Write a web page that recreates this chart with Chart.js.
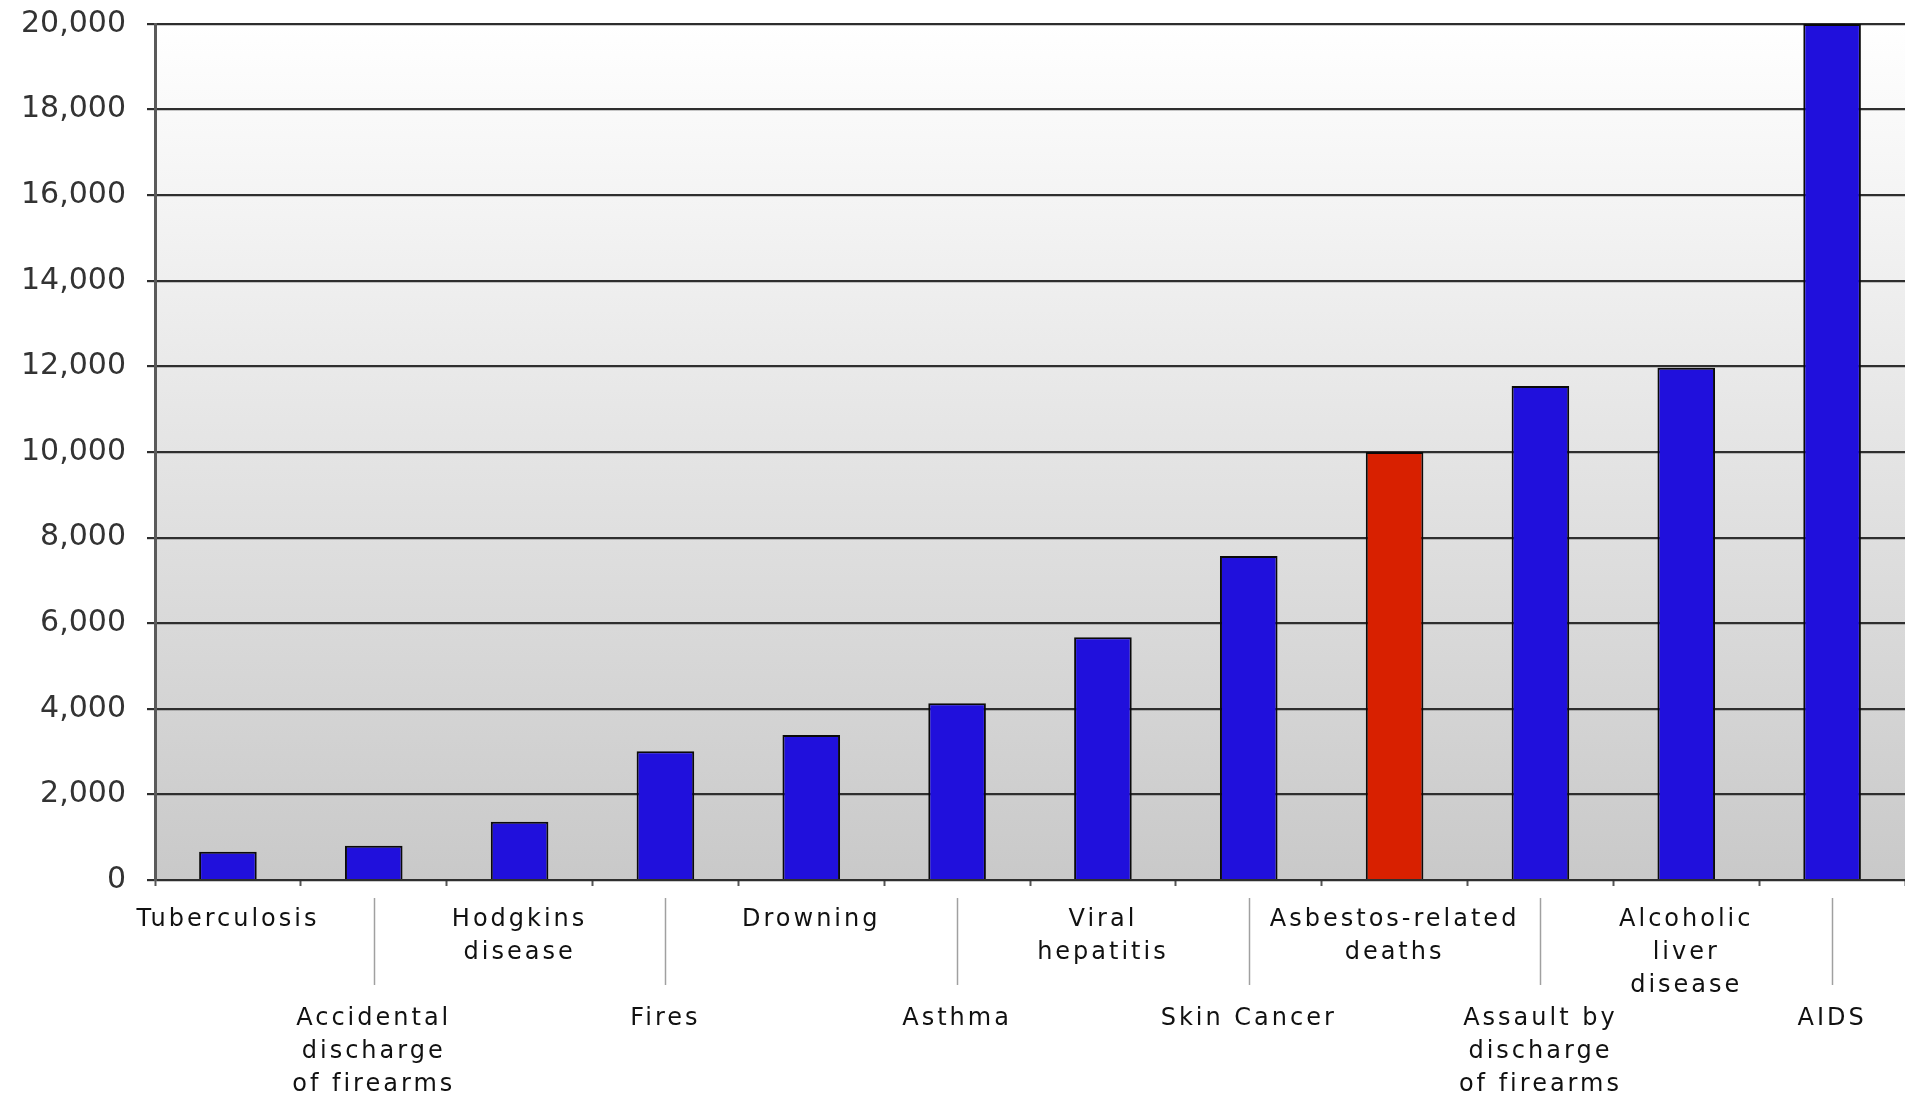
<!DOCTYPE html>
<html>
<head>
<meta charset="utf-8">
<title>Annual deaths by cause</title>
<script src="https://cdn.jsdelivr.net/npm/chart.js@4/dist/chart.umd.min.js"></script>
<style>
  html, body { margin: 0; padding: 0; background: #ffffff; }
  #wrap { width: 1905px; height: 1097px; }
</style>
</head>
<body>
<div id="wrap"><canvas id="chart" width="1905" height="1097"></canvas></div>
<script>
// Causes of death, each label split into its display lines
const causes = [
  ["Tuberculosis"],
  ["Accidental", "discharge", "of firearms"],
  ["Hodgkins", "disease"],
  ["Fires"],
  ["Drowning"],
  ["Asthma"],
  ["Viral", "hepatitis"],
  ["Skin Cancer"],
  ["Asbestos-related", "deaths"],
  ["Assault by", "discharge", "of firearms"],
  ["Alcoholic", "liver", "disease"],
  ["AIDS"]
];

// Deaths per year for each cause
const deaths = [660, 800, 1360, 3010, 3390, 4130, 5670, 7570, 10000, 11540, 11970, 20000];

// Value axis ticks
const yTicks = [0, 2000, 4000, 6000, 8000, 10000, 12000, 14000, 16000, 18000, 20000];

// The cause drawn in a contrasting colour
const highlighted = "Asbestos-related";

const BLUE = "#2010dc";
const RED = "#d82000";
const barColors = causes.map(c => c[0] === highlighted ? RED : BLUE);

// Every second label sits on a lower row, joined to its tick by a thin line
const LOWER_ROW_OFFSET = 3;
const tickLines = causes.map((lines, i) =>
  i % 2 === 1 ? Array(LOWER_ROW_OFFSET).fill("").concat(lines) : lines.slice()
);

const plotBackground = {
  id: "plotBackground",
  beforeDraw(chart) {
    const { ctx, chartArea: a } = chart;
    ctx.letterSpacing = "0px";
    const g = ctx.createLinearGradient(0, a.top, 0, a.bottom);
    g.addColorStop(0, "#ffffff");
    g.addColorStop(1, "#c9c9c9");
    ctx.save();
    ctx.fillStyle = g;
    ctx.fillRect(a.left, a.top, a.right - a.left, a.bottom - a.top);
    ctx.restore();
  },
  afterDatasetsDraw(chart) {
    // category labels are drawn after this with wider tracking
    chart.ctx.letterSpacing = "3px";
  },
  afterDraw(chart) {
    const { ctx } = chart;
    const x = chart.scales.x;
    ctx.save();
    ctx.letterSpacing = "0px";
    ctx.strokeStyle = "#a0a0a0";
    ctx.lineWidth = 1.5;
    causes.forEach((_, i) => {
      if (i % 2 !== 1) return;
      const px = Math.round(x.getPixelForTick(i)) + 0.5;
      ctx.beginPath();
      ctx.moveTo(px, x.top + 18);
      ctx.lineTo(px, x.top + 105);
      ctx.stroke();
    });
    ctx.restore();
    ctx.letterSpacing = "0px";
  }
};

new Chart(document.getElementById("chart"), {
  type: "bar",
  data: {
    labels: causes.map(c => c.join(" ")),
    datasets: [{
      data: deaths,
      backgroundColor: barColors,
      borderColor: "#0a0a0a",
      borderWidth: 2,
      borderSkipped: "bottom",
      categoryPercentage: 1.0,
      barPercentage: 0.395
    }]
  },
  options: {
    responsive: false,
    animation: false,
    devicePixelRatio: 1,
    layout: { padding: { top: 24, right: 0, bottom: 0, left: 0 } },
    plugins: {
      legend: { display: false },
      tooltip: { enabled: false },
      title: { display: false }
    },
    scales: {
      x: {
        type: "category",
        offset: true,
        grid: {
          display: true,
          drawOnChartArea: false,
          drawTicks: true,
          tickLength: 6,
          tickWidth: 2,
          tickColor: "#555555",
          offset: true
        },
        border: { display: false },
        ticks: {
          z: 1,
          autoSkip: false,
          maxRotation: 0,
          minRotation: 0,
          padding: 17,
          color: "#111111",
          font: { family: "'DejaVu Sans', Verdana, sans-serif", size: 24, lineHeight: "33px" },
          callback: (value, index) => tickLines[index]
        },
        afterFit(scale) { scale.height = 217; }
      },
      y: {
        min: 0,
        max: 20000,
        afterBuildTicks(scale) { scale.ticks = yTicks.map(v => ({ value: v })); },
        grid: {
          color: "#2e2e2e",
          lineWidth: 2.2,
          drawTicks: true,
          tickLength: 8,
          tickColor: "#2e2e2e"
        },
        border: { display: true, color: "#5a5a5a", width: 3 },
        ticks: {
          padding: 21,
          color: "#333333",
          font: { family: "'DejaVu Sans', Verdana, sans-serif", size: 30 },
          callback: v => Number(v).toLocaleString("en-US")
        },
        afterFit(scale) {
          scale.width = 155;
          scale.paddingTop = 0;
          scale.paddingBottom = 0;
        }
      }
    }
  },
  plugins: [plotBackground]
});
</script>
</body>
</html>
